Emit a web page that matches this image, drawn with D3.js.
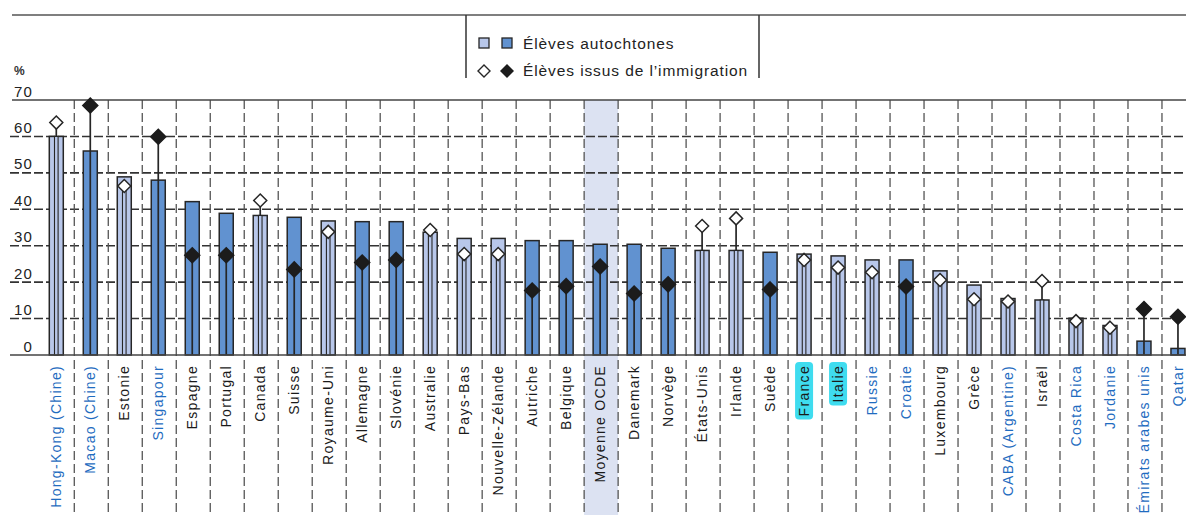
<!DOCTYPE html>
<html><head><meta charset="utf-8">
<script src="https://cdn.jsdelivr.net/npm/d3@7"></script>
<style>body{margin:0;background:#fff}svg{display:block}text{font-family:"Liberation Sans",Arial,sans-serif}</style>
</head><body><svg id="c" width="1186" height="515"></svg>
<script>
const categories = ["Hong-Kong (Chine)","Macao (Chine)","Estonie","Singapour","Espagne","Portugal","Canada","Suisse","Royaume-Uni","Allemagne","Slovénie","Australie","Pays-Bas","Nouvelle-Zélande","Autriche","Belgique","Moyenne OCDE","Danemark","Norvège","États-Unis","Irlande","Suède","France","Italie","Russie","Croatie","Luxembourg","Grèce","CABA (Argentine)","Israël","Costa Rica","Jordanie","Émirats arabes unis","Qatar"];
const natives = [60.0,56.0,48.9,48.0,42.1,38.9,38.3,37.8,36.8,36.6,36.6,33.7,32.0,32.0,31.4,31.4,30.4,30.4,29.3,28.7,28.7,28.2,27.7,27.2,26.1,26.1,23.1,19.2,15.5,15.1,10.1,8.1,3.8,1.8];
const immigrants = [63.8,68.5,46.4,59.9,27.4,27.4,42.4,23.5,33.8,25.4,26.1,34.3,27.7,27.7,17.7,18.9,24.3,16.9,19.4,35.4,37.5,18.0,26.1,24.0,22.7,18.8,20.6,15.3,14.7,20.3,9.3,7.5,12.6,10.5];
const significant = [0,1,0,1,1,1,0,1,0,1,1,0,0,0,1,1,1,1,1,0,0,1,0,0,0,1,0,0,0,0,0,0,1,1];
const partners = ["Hong-Kong (Chine)","Macao (Chine)","Singapour","Russie","Croatie","CABA (Argentine)","Costa Rica","Jordanie","Émirats arabes unis","Qatar"];
const highlighted = ["France","Italie"];
const average = "Moyenne OCDE";
const yTicks = [0,10,20,30,40,50,60,70];
const legendLabels = ["Élèves autochtones","Élèves issus de l’immigration"];

const LIGHT="#b8c7ea", DARK="#6192d0", INK="#262626", GRID="#333";
const svg = d3.select("#c");
const x = d3.scaleBand().domain(categories).range([39.3, 39.3+34*33.99]).padding(0);
const y = d3.scaleLinear().domain([0,70]).range([355,100]);
const bw = 14;
const cx = d => x(d)+x.bandwidth()/2;

svg.append("rect").attr("x",x(average)+1).attr("y",100).attr("width",x.bandwidth()).attr("height",415).attr("fill","#dce2f2");

svg.append("line").attr("x1",12).attr("x2",1186).attr("y1",15).attr("y2",15).attr("stroke","#555").attr("stroke-width",1.7);

svg.selectAll("line.h").data(yTicks.filter(t=>t>0&&t<70)).join("line")
  .attr("x1",10).attr("x2",1186).attr("y1",d=>y(d)).attr("y2",d=>y(d))
  .attr("stroke",GRID).attr("stroke-width",1.6).attr("stroke-dasharray","9,3");
svg.selectAll("line.v").data(categories.slice(0,-1)).join("line")
  .attr("x1",d=>x(d)+x.bandwidth()+1).attr("x2",d=>x(d)+x.bandwidth()+1).attr("y1",100).attr("y2",515)
  .attr("stroke","#555").attr("stroke-width",1.3).attr("stroke-dasharray","9,4");

svg.append("line").attr("x1",12).attr("x2",1186).attr("y1",y(70)).attr("y2",y(70)).attr("stroke","#444").attr("stroke-width",1.7);

svg.selectAll("text.yt").data(yTicks).join("text")
  .attr("x",33).attr("y",d=>y(d)-3.5).attr("text-anchor","end")
  .attr("font-size",15).attr("letter-spacing",1.2).attr("fill","#222").text(d=>d);
svg.append("text").attr("x",14).attr("y",75).attr("font-size",12).attr("font-weight","bold").attr("fill","#333").text("%");

const data = categories.map((c,i)=>({c,nat:natives[i],imm:immigrants[i],sig:significant[i]}));
svg.selectAll("rect.bar").data(data).join("rect")
  .attr("x",d=>cx(d.c)-bw/2).attr("y",d=>y(d.nat)).attr("width",bw).attr("height",d=>y(0)-y(d.nat))
  .attr("fill",d=>d.sig?DARK:LIGHT).attr("stroke",INK).attr("stroke-width",1.5);

data.forEach(d=>{
  const X=cx(d.c);
  if(d.sig){
    svg.append("line").attr("x1",X).attr("x2",X).attr("y1",y(0)).attr("y2",y(d.imm)).attr("stroke",INK).attr("stroke-width",1.7);
  } else {
    const inner=Math.min(d.nat,d.imm);
    svg.append("rect").attr("x",X-1.8).attr("y",y(inner)).attr("width",3.6).attr("height",y(0)-y(inner))
      .attr("fill",LIGHT).attr("stroke",INK).attr("stroke-width",1.1);
    if(d.imm>d.nat) svg.append("line").attr("x1",X).attr("x2",X).attr("y1",y(d.nat)).attr("y2",y(d.imm)).attr("stroke",INK).attr("stroke-width",1.7);
  }
});

svg.append("line").attr("x1",10).attr("x2",1186).attr("y1",y(0)).attr("y2",y(0)).attr("stroke","#444").attr("stroke-width",1.7);

const diamond = (X,Y,r)=>`M${X},${Y-r}L${X+r},${Y}L${X},${Y+r}L${X-r},${Y}Z`;
svg.selectAll("path.m").data(data).join("path")
  .attr("d",d=>diamond(cx(d.c),y(d.imm),d.sig?7.5:6.5))
  .attr("fill",d=>d.sig?"#1c1c1c":"#fff").attr("stroke",d=>d.sig?"#1c1c1c":INK).attr("stroke-width",1.5);

const lab = svg.append("g");
data.forEach(d=>{
  const X=cx(d.c);
  const g=lab.append("g").attr("transform",`translate(${X+5},365) rotate(-90)`);
  const t=g.append("text").attr("x",0).attr("y",0).attr("text-anchor","end")
    .attr("font-size",14).attr("letter-spacing",1.3)
    .attr("fill",partners.includes(d.c)?"#1f6cc0":"#1a1a1a").text(d.c);
  if(highlighted.includes(d.c)){
    const bb=t.node().getBBox();
    g.insert("rect","text").attr("x",bb.x-3).attr("y",bb.y-1).attr("width",bb.width+6).attr("height",bb.height+2)
      .attr("rx",4).attr("fill","#3fdcef");
  }
});

svg.append("line").attr("x1",466).attr("x2",466).attr("y1",15).attr("y2",78).attr("stroke","#333").attr("stroke-width",1.5);
svg.append("line").attr("x1",759).attr("x2",759).attr("y1",15).attr("y2",78).attr("stroke","#333").attr("stroke-width",1.5);
svg.append("rect").attr("x",479).attr("y",38).attr("width",10).attr("height",10).attr("fill",LIGHT).attr("stroke",INK).attr("stroke-width",1.3);
svg.append("rect").attr("x",502).attr("y",38).attr("width",10).attr("height",10).attr("fill",DARK).attr("stroke",INK).attr("stroke-width",1.3);
svg.append("path").attr("d",diamond(484,71,6)).attr("fill","#fff").attr("stroke",INK).attr("stroke-width",1.4);
svg.append("path").attr("d",diamond(507,71,7)).attr("fill","#1c1c1c");
svg.append("text").attr("x",523).attr("y",49).attr("font-size",15.5).attr("letter-spacing",0.9).attr("fill","#222").text(legendLabels[0]);
svg.append("text").attr("x",523).attr("y",76).attr("font-size",15.5).attr("letter-spacing",0.9).attr("fill","#222").text(legendLabels[1]);
</script></body></html>
